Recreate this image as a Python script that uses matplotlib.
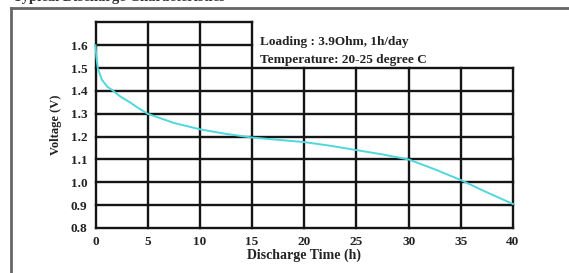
import matplotlib
matplotlib.use("Agg")
import matplotlib.pyplot as plt
from matplotlib.lines import Line2D

# Data
time_h = [0, 0.08, 0.22, 0.6, 1.1, 1.7, 2.4, 3.3, 4.1, 5, 7.5, 10, 12.5, 15, 17.5, 20, 22.5, 25, 27.5, 30, 32.5, 35, 37.5, 40]
voltage = [1.60, 1.55, 1.50, 1.45, 1.42, 1.40, 1.375, 1.35, 1.325, 1.30, 1.26, 1.232, 1.212, 1.196, 1.186, 1.176, 1.16, 1.141, 1.122, 1.10, 1.057, 1.01, 0.956, 0.905]
x_ticks = [0, 5, 10, 15, 20, 25, 30, 35, 40]
y_ticks = [0.8, 0.9, 1.0, 1.1, 1.2, 1.3, 1.4, 1.5, 1.6]
y_tick_labels = ["0.8", "0.9", "1.0", "1.1", "1.2", "1.3", "1.4", "1.5", "1.6"]
note_lines = ["Loading : 3.9Ohm, 1h/day", "Temperature: 20-25 degree C"]
title = "Typical Discharge Characteristics"
x_label = "Discharge Time (h)"
y_label = "Voltage (V)"

W, H = 569, 273
fig = plt.figure(figsize=(W / 100, H / 100), dpi=100)
ser = ["Liberation Serif", "DejaVu Serif"]

ax = fig.add_axes([95.5 / W, 1 - 228 / H, (513 - 95.5) / W, (228 - 22.4) / H])
ax.set_xlim(0, 40)
ax.set_ylim(0.8, 1.7)
for s in ax.spines.values():
    s.set_visible(False)
ax.set_xticks(x_ticks)
ax.set_yticks(y_ticks)
ax.set_yticklabels(y_tick_labels)
ax.tick_params(length=0, pad=6, labelsize=9.5)
for lab in ax.get_xticklabels() + ax.get_yticklabels():
    lab.set_fontfamily(ser)
    lab.set_fontweight("bold")
    lab.set_color("#222222")

gc = "#151515"
glw = 1.7
# grid: left part (0-15) extends to 1.7, right part only to 1.5
for x in x_ticks:
    top = 1.7 if x <= 15 else 1.5
    ax.plot([x, x], [0.8, top], color=gc, lw=glw, clip_on=False, zorder=1)
for y in y_ticks + [1.7]:
    right = 40 if y <= 1.5 else 15
    ax.plot([0, right], [y, y], color=gc, lw=glw, clip_on=False, zorder=1)

ax.plot(time_h, voltage, color="#4fd8dc", lw=1.4, zorder=3, clip_on=False)

ax.set_xlabel(x_label, fontfamily=ser, fontweight="bold", fontsize=10, labelpad=0, color="#222222")
ax.set_ylabel(y_label, fontfamily=ser, fontweight="bold", fontsize=9, labelpad=6, color="#222222")

ax.text(260 / W, 1 - 45 / H, note_lines[0], transform=fig.transFigure, fontfamily=ser,
        fontweight="bold", fontsize=9.5, va="baseline", color="#222222")
ax.text(260 / W, 1 - 63 / H, note_lines[1], transform=fig.transFigure, fontfamily=ser,
        fontweight="bold", fontsize=9.5, va="baseline", color="#222222")

# outer frame
fig.add_artist(Line2D([11 / W, 11 / W], [0, 1 - 8 / H], color="#666666", lw=2, transform=fig.transFigure))
fig.add_artist(Line2D([11 / W, 1], [1 - 8 / H, 1 - 8 / H], color="#666666", lw=2, transform=fig.transFigure))

# cut-off title (partly outside the picture, as in the reference)
fig.text(13 / W, 1 - 1 / H, title, fontfamily=ser, fontweight="bold", fontsize=10.5,
         va="baseline", color="#333333")

fig.savefig("out.png", dpi=100)
